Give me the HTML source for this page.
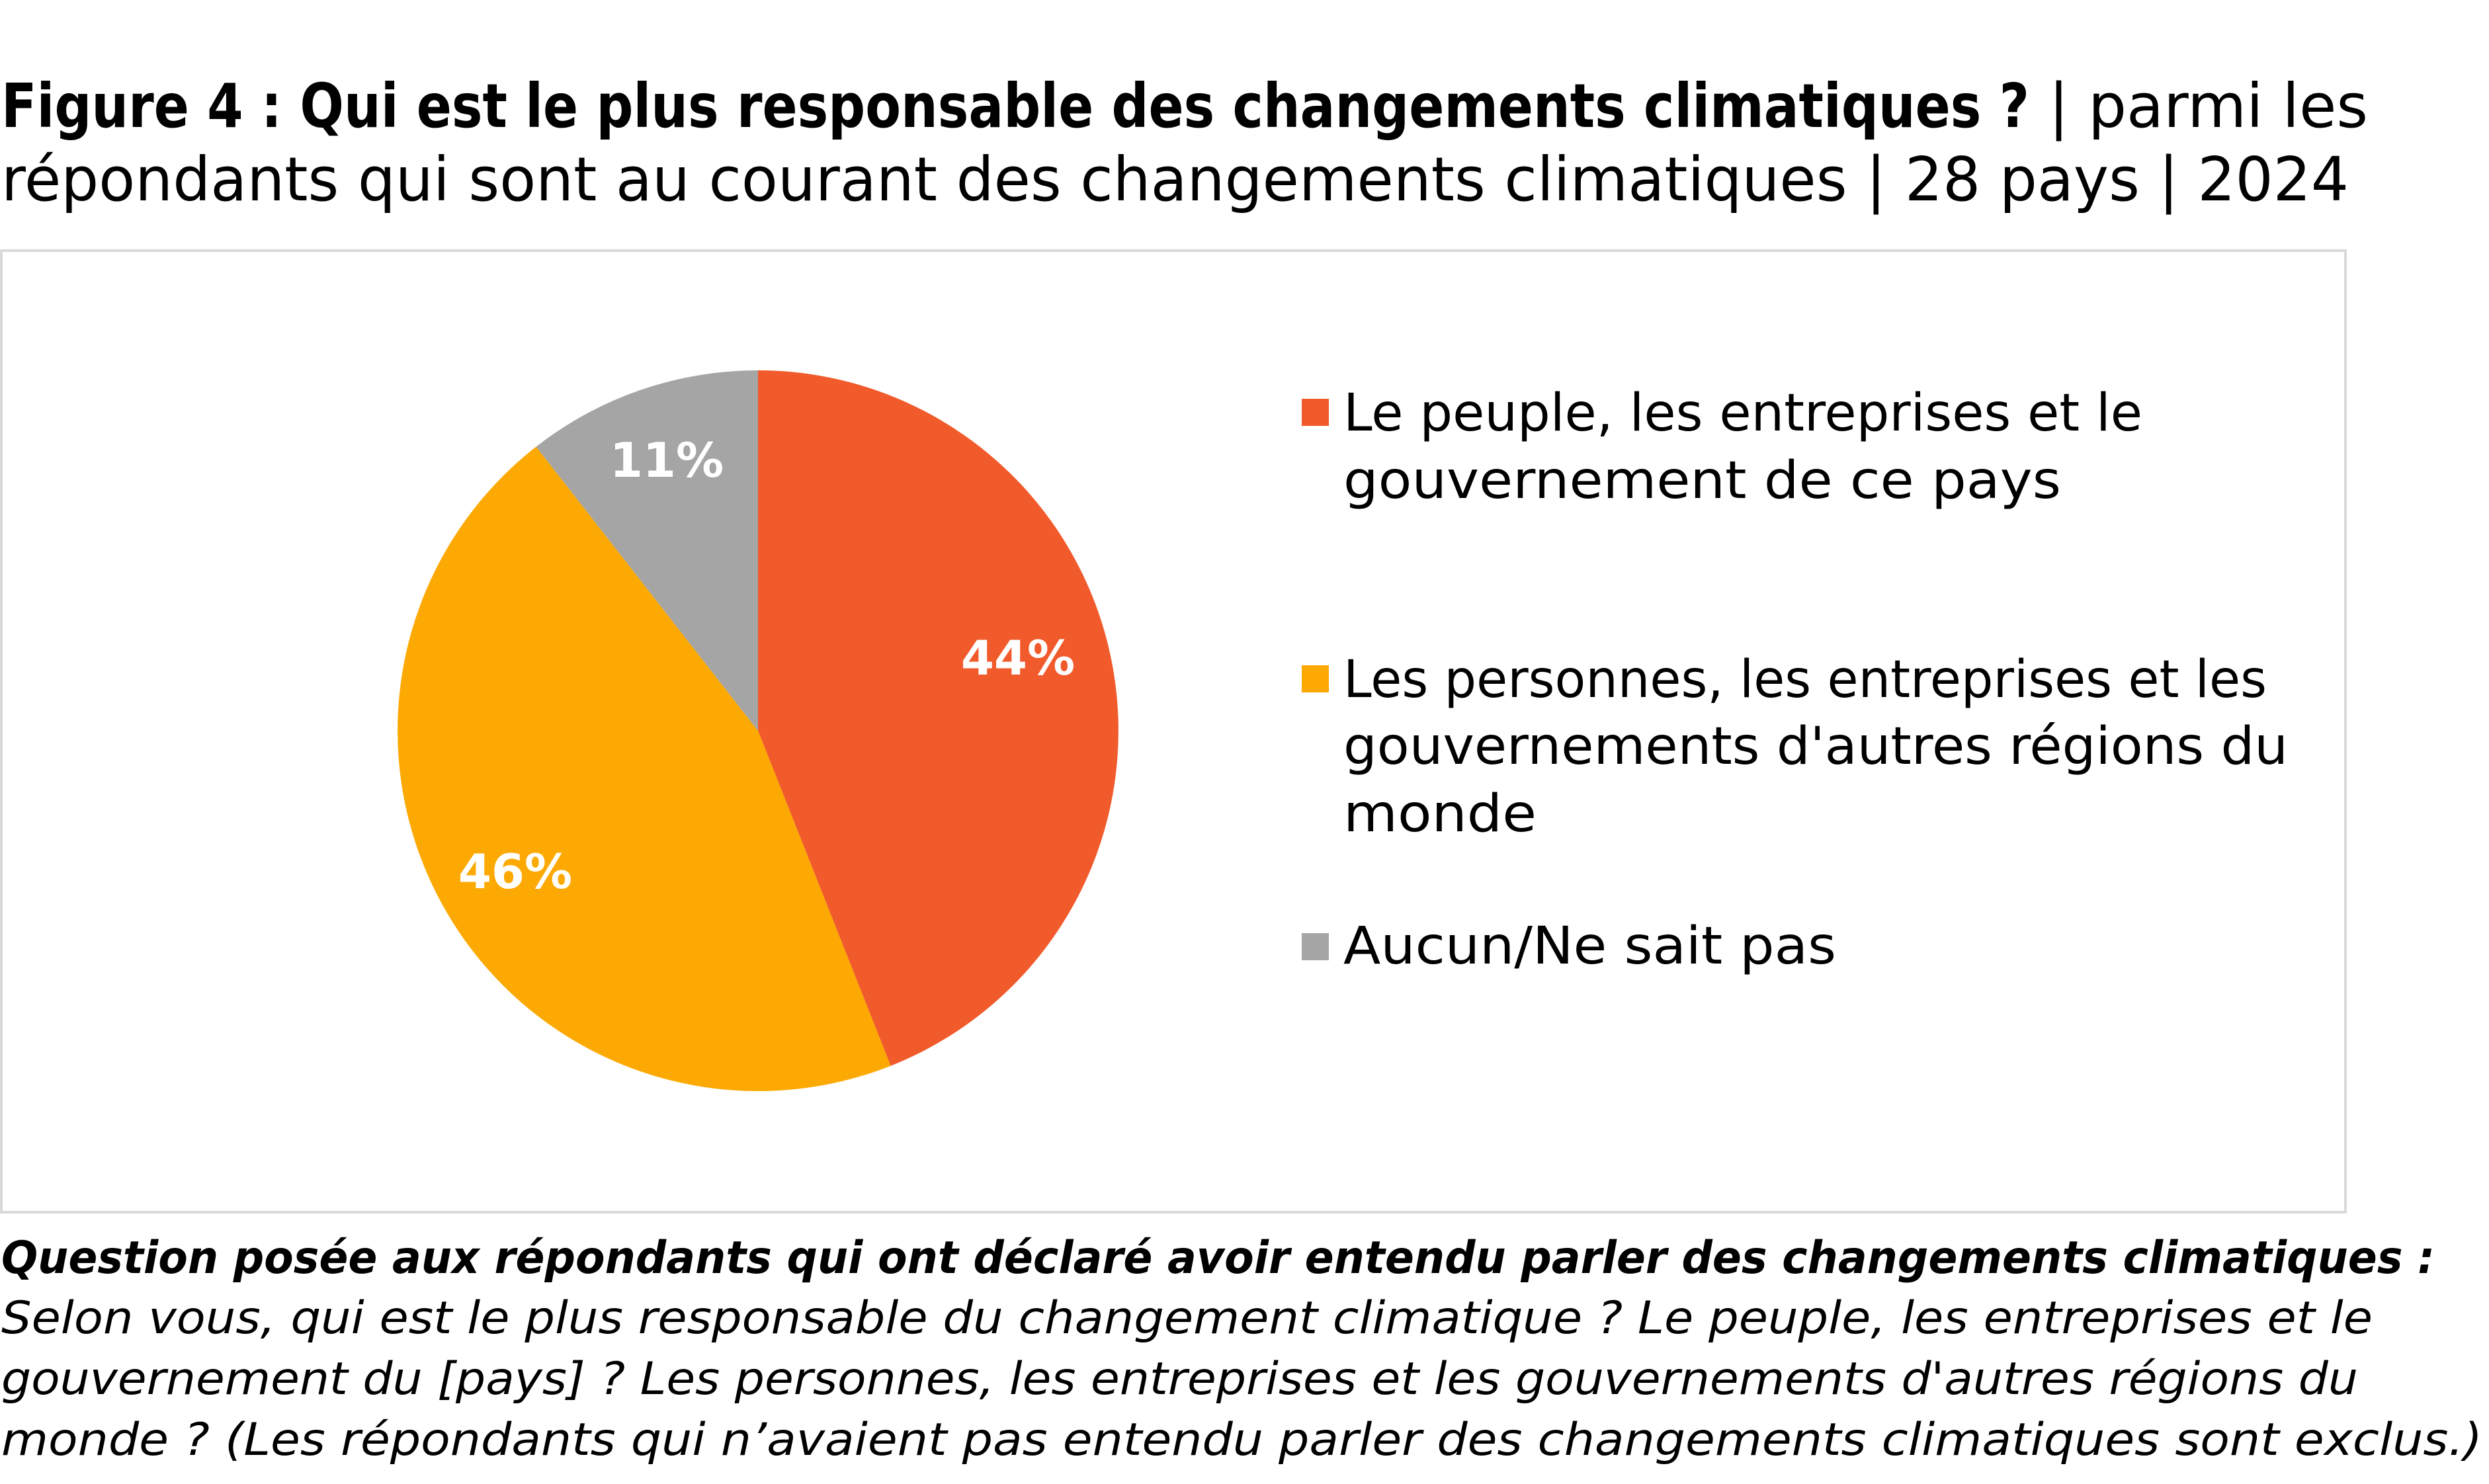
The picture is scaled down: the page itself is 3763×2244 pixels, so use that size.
<!DOCTYPE html>
<html><head><meta charset="utf-8"><style>
html,body{margin:0;padding:0;background:#fff;}
svg{display:block;}
text{font-family:"DejaVu Sans","Liberation Sans",sans-serif;}
</style></head><body>
<svg width="3763" height="2244" viewBox="0 0 3763 2244" xmlns="http://www.w3.org/2000/svg">
<rect width="3763" height="2244" fill="#fff"/>
<text x="2" y="192" font-size="92" fill="#000"><tspan font-weight="bold" textLength="3066" lengthAdjust="spacingAndGlyphs">Figure 4 : Qui est le plus responsable des changements climatiques ?</tspan><tspan textLength="512" lengthAdjust="spacingAndGlyphs"> | parmi les</tspan></text>
<text x="2" y="303" font-size="92" fill="#000" textLength="3549" lengthAdjust="spacingAndGlyphs">répondants qui sont au courant des changements climatiques | 28 pays | 2024</text>
<rect x="2" y="379" width="3544" height="1454" fill="#fff" stroke="#d9d9d9" stroke-width="4"/>
<path d="M1146 1105 L1146 560 A545 545 0 0 1 1346.6 1611.7 Z" fill="#F15A2B"/>
<path d="M1146 1105 L1346.6 1611.7 A545 545 0 0 1 810.5 675.5 Z" fill="#FCA903"/>
<path d="M1146 1105 L810.5 675.5 A545 545 0 0 1 1146 560 Z" fill="#A5A5A5"/>
<g font-size="72" font-weight="bold" fill="#fff" text-anchor="middle">
<text x="1539" y="1020">44%</text>
<text x="779" y="1343">46%</text>
<text x="1008" y="721">11%</text>
</g>
<rect x="1968" y="603" width="41" height="41" fill="#F15A2B"/>
<rect x="1968" y="1006" width="41" height="41" fill="#FCA903"/>
<rect x="1968" y="1411" width="41" height="41" fill="#A5A5A5"/>
<g font-size="78" fill="#000">
<text x="2031" y="651" textLength="1208" lengthAdjust="spacingAndGlyphs">Le peuple, les entreprises et le</text>
<text x="2031" y="753" textLength="1085" lengthAdjust="spacingAndGlyphs">gouvernement de ce pays</text>
<text x="2031" y="1054" textLength="1396" lengthAdjust="spacingAndGlyphs">Les personnes, les entreprises et les</text>
<text x="2031" y="1155" textLength="1428" lengthAdjust="spacingAndGlyphs">gouvernements d'autres régions du</text>
<text x="2031" y="1257" textLength="292" lengthAdjust="spacingAndGlyphs">monde</text>
<text x="2031" y="1457" textLength="745" lengthAdjust="spacingAndGlyphs">Aucun/Ne sait pas</text>
</g>
<g font-size="68" fill="#000" font-style="italic">
<text x="2" y="1925" font-weight="bold" textLength="3679" lengthAdjust="spacingAndGlyphs">Question posée aux répondants qui ont déclaré avoir entendu parler des changements climatiques :</text>
<text x="2" y="2016" textLength="3585" lengthAdjust="spacingAndGlyphs">Selon vous, qui est le plus responsable du changement climatique ? Le peuple, les entreprises et le</text>
<text x="2" y="2108" textLength="3563" lengthAdjust="spacingAndGlyphs">gouvernement du [pays] ? Les personnes, les entreprises et les gouvernements d'autres régions du</text>
<text x="2" y="2200" textLength="3751" lengthAdjust="spacingAndGlyphs">monde ? (Les répondants qui n’avaient pas entendu parler des changements climatiques sont exclus.)</text>
</g>
</svg>
</body></html>
